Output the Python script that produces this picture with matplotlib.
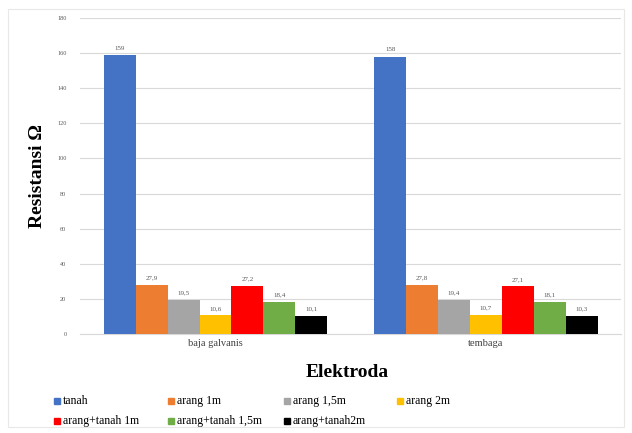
import numpy as np
import matplotlib as mpl
mpl.use("Agg")

import matplotlib.pyplot as plt

mpl.rcParams.update({'font.family': 'Liberation Serif'})

categories = ["baja galvanis", "tembaga"]
series     = ["tanah", "arang 1m", "arang 1,5m", "arang 2m",
              "arang+tanah 1m", "arang+tanah 1,5m", "arang+tanah2m"]
values = [
    [159, 158],
    [27.9, 27.8],
    [19.5, 19.4],
    [10.6, 10.7],
    [27.2, 27.1],
    [18.4, 18.1],
    [10.1, 10.3],
]
colors = ['#4472C4', '#ED7D31', '#A5A5A5', '#FFC000', '#FF0000', '#70AD47', '#000000']
yticks = np.arange(0, 181, 20)

W, H = 632, 433
fig = plt.figure(figsize=(W / 100, H / 100), dpi=100)
ax = fig.add_axes([0.127, 0.229, 0.856, 0.729])

x = np.arange(len(categories))
n = len(series)
width = 0.826 / n
for i, (name, vals) in enumerate(zip(series, values)):
    pos = x - 0.413 + width * (i + 0.5)
    bars = ax.bar(pos, vals, width, color=colors[i], label=name, zorder=3)
    for b, v in zip(bars, vals):
        ax.text(b.get_x() + b.get_width() / 2, v + 2.5, f"{v:g}".replace('.', ','),
                ha='center', va='bottom', fontsize=5, color='#595959')

ax.set_xlim(-0.5, 1.5)
ax.set_ylim(0, 180)
ax.set_yticks(yticks)
ax.set_yticklabels([str(t) for t in yticks], fontsize=4.5, color='#595959')
ax.set_xticks(x)
ax.set_xticklabels(categories, fontsize=7.5, color='#404040')
ax.tick_params(length=0)
ax.tick_params(axis='y', pad=10)
ax.grid(axis='y', color='#D9D9D9', linewidth=0.8, zorder=0)
for s in ['top', 'right', 'left']:
    ax.spines[s].set_visible(False)
ax.spines['bottom'].set_color('#D9D9D9')

ax.set_ylabel('Resistansi Ω', fontsize=14, fontweight='bold', labelpad=8)
fig.text(0.55, 0.14, 'Elektroda', ha='center', va='center', fontsize=14, fontweight='bold')

# legend laid out in fixed columns, row by row like the original
col_x = [54, 168, 284, 397]
row_y = [401, 421]
for i, name in enumerate(series):
    cx = col_x[i % 4]
    cy = row_y[i // 4]
    fig.add_artist(plt.Rectangle((cx / W, 1 - (cy + 3) / H), 6 / W, 6 / H,
                                 transform=fig.transFigure, color=colors[i]))
    fig.text((cx + 9) / W, 1 - cy / H, name, ha='left', va='center', fontsize=8.5)

fig.patches.append(plt.Rectangle((0.012, 0.015), 0.976, 0.965, transform=fig.transFigure,
                                 fill=False, edgecolor='#E8E8E8', linewidth=0.8))

plt.savefig("out.png")
